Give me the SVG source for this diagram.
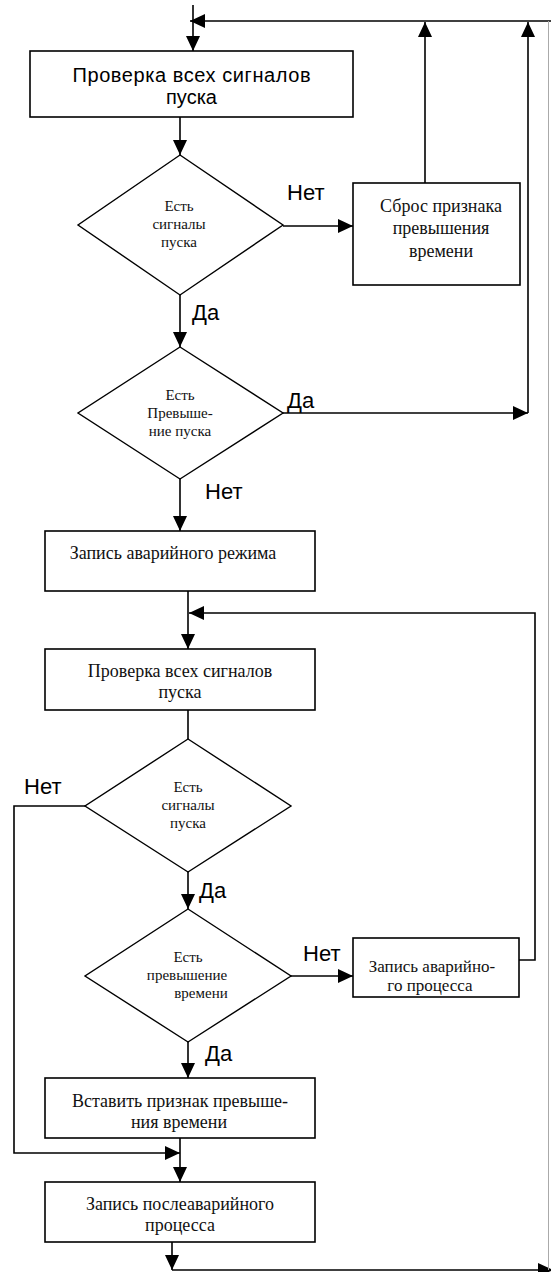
<svg xmlns="http://www.w3.org/2000/svg" width="551" height="1272" viewBox="0 0 551 1272">
<style>
.box{fill:#fff;stroke:#000;stroke-width:1.6}
.dia{fill:#fff;stroke:#000;stroke-width:1.4}
.ln{fill:none;stroke:#000;stroke-width:1.6}
.sans{font-family:"Liberation Sans",Arial,sans-serif;fill:#000}
.ser{font-family:"Liberation Serif","Times New Roman",serif;fill:#111}
.lbl{font-family:"Liberation Sans",Arial,sans-serif;font-size:22px;fill:#000}
.t18{font-size:18px}
.t15{font-size:15px}
</style>
<defs>
<marker id="ah" markerUnits="userSpaceOnUse" markerWidth="15" markerHeight="14" refX="15" refY="7" orient="auto">
<path d="M0,0 L15,7 L0,14 z" fill="#000"/>
</marker>
</defs>
<rect width="551" height="1272" fill="#fff"/>

<g id="connectors">
<path class="ln" d="M193,5 V51" marker-end="url(#ah)"/>
<path class="ln" d="M551,21 H190" marker-end="url(#ah)"/>
<path class="ln" d="M180,117 V155" marker-end="url(#ah)"/>
<path class="ln" d="M283,226 H353" marker-end="url(#ah)"/>
<path class="ln" d="M425,183 V22" marker-end="url(#ah)"/>
<path class="ln" d="M180,295 V347" marker-end="url(#ah)"/>
<path class="ln" d="M283,413 H528" marker-end="url(#ah)"/>
<path class="ln" d="M528,413 V22" marker-end="url(#ah)"/>
<path class="ln" d="M180,479 V531" marker-end="url(#ah)"/>
<path class="ln" d="M188,591 V649" marker-end="url(#ah)"/>
<path class="ln" d="M519,960 H535 V613 H189" marker-end="url(#ah)"/>
<path class="ln" d="M188,710 V739"/>
<path class="ln" d="M85,806 H14 V1153 H180" marker-end="url(#ah)"/>
<path class="ln" d="M188,872 V909" marker-end="url(#ah)"/>
<path class="ln" d="M291,976 H353" marker-end="url(#ah)"/>
<path class="ln" d="M188,1042 V1078" marker-end="url(#ah)"/>
<path class="ln" d="M180,1138 V1182" marker-end="url(#ah)"/>
<path class="ln" d="M172,1242 V1270" marker-end="url(#ah)"/>
<path class="ln" d="M172,1270 H553" marker-end="url(#ah)"/>
<path d="M548.5,21 V1270" fill="none" stroke="#aaa" stroke-width="1"/>
</g>

<g id="n1">
<rect class="box" x="30" y="51" width="323" height="66"/>
<text class="sans" font-size="20" text-anchor="middle" x="191.5" y="82" textLength="238">Проверка всех сигналов</text>
<text class="sans" font-size="20" text-anchor="middle" x="191.5" y="104">пуска</text>
</g>

<g id="d1">
<polygon class="dia" points="180,155 283,225 180,295 78,225"/>
<text class="ser t15" text-anchor="middle" x="179" y="211">Есть</text>
<text class="ser t15" text-anchor="middle" x="179" y="229">сигналы</text>
<text class="ser t15" text-anchor="middle" x="179" y="247">пуска</text>
</g>

<g id="n2">
<rect class="box" x="353" y="183" width="167" height="102"/>
<text class="ser t18" text-anchor="middle" x="441" y="212">Сброс признака</text>
<text class="ser t18" text-anchor="middle" x="441" y="234">превышения</text>
<text class="ser t18" text-anchor="middle" x="441" y="257">времени</text>
</g>

<g id="d2">
<polygon class="dia" points="180,347 283,413 180,479 78,413"/>
<text class="ser t15" text-anchor="middle" x="180" y="400">Есть</text>
<text class="ser t15" text-anchor="middle" x="180" y="418">Превыше-</text>
<text class="ser t15" text-anchor="middle" x="180" y="436">ние пуска</text>
</g>

<g id="n3">
<rect class="box" x="45" y="531" width="270" height="60"/>
<text class="ser t18" text-anchor="middle" x="173" y="559">Запись аварийного режима</text>
</g>

<g id="n4">
<rect class="box" x="45" y="649" width="270" height="61"/>
<text class="ser t18" text-anchor="middle" x="180" y="677">Проверка всех сигналов</text>
<text class="ser t18" text-anchor="middle" x="180" y="698">пуска</text>
</g>

<g id="d3">
<polygon class="dia" points="188,739 291,806 188,872 85,806"/>
<text class="ser t15" text-anchor="middle" x="188" y="792">Есть</text>
<text class="ser t15" text-anchor="middle" x="188" y="810">сигналы</text>
<text class="ser t15" text-anchor="middle" x="188" y="828">пуска</text>
</g>

<g id="d4">
<polygon class="dia" points="188,909 291,976 188,1042 85,976"/>
<text class="ser t15" text-anchor="middle" x="188" y="962">Есть</text>
<text class="ser t15" text-anchor="middle" x="187" y="980">превышение</text>
<text class="ser t15" text-anchor="middle" x="201" y="998">времени</text>
</g>

<g id="n5">
<rect class="box" x="353" y="938" width="166" height="59"/>
<text class="ser" font-size="17" text-anchor="middle" x="432" y="972">Запись аварийно-</text>
<text class="ser" font-size="17" text-anchor="middle" x="430" y="991">го процесса</text>
</g>

<g id="n6">
<rect class="box" x="45" y="1078" width="270" height="60"/>
<text class="ser t18" text-anchor="middle" x="180" y="1107">Вставить признак превыше-</text>
<text class="ser t18" text-anchor="middle" x="179" y="1128">ния времени</text>
</g>

<g id="n7">
<rect class="box" x="45" y="1182" width="270" height="60"/>
<text class="ser t18" text-anchor="middle" x="180" y="1210">Запись послеаварийного</text>
<text class="ser t18" text-anchor="middle" x="180" y="1231">процесса</text>
</g>

<g id="labels">
<text class="lbl" x="287" y="200">Нет</text>
<text class="lbl" x="192" y="320">Да</text>
<text class="lbl" x="287" y="408">Да</text>
<text class="lbl" x="205" y="499">Нет</text>
<text class="lbl" x="24" y="794">Нет</text>
<text class="lbl" x="199" y="898">Да</text>
<text class="lbl" x="303" y="961">Нет</text>
<text class="lbl" x="205" y="1061">Да</text>
</g>
</svg>
